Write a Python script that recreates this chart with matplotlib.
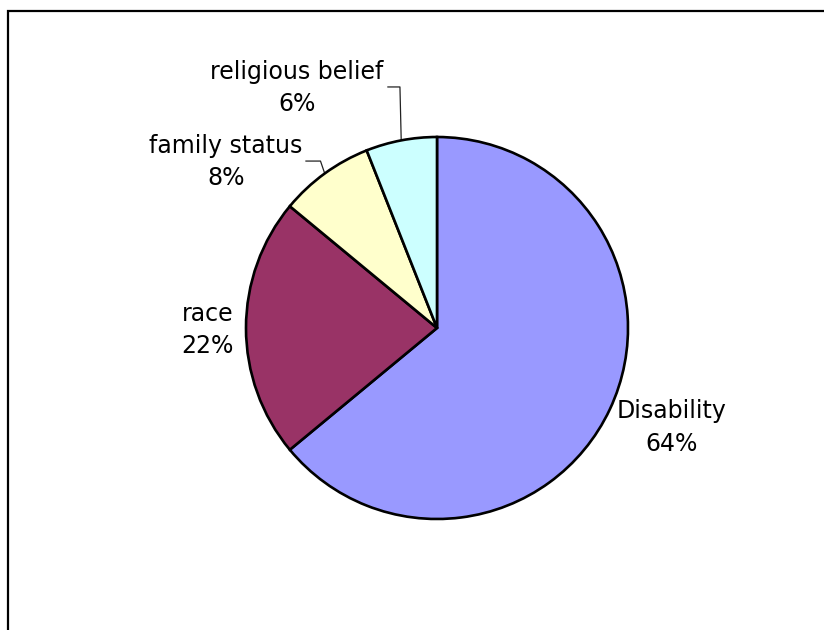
import numpy as np
import matplotlib
matplotlib.use("Agg")
from matplotlib import pyplot as plt
from matplotlib.patches import Rectangle

# data
categories = ['Disability', 'race', 'family status', 'religious belief']
shares = [64, 22, 8, 6]
colors = ['#9999FF', '#993366', '#FFFFCC', '#CCFFFF']

# label placement (axes data units, pie radius = 1)
label_pos = {
    'Disability': (1.23, -0.52),
    'race': (-1.20, -0.01),
    'family status': (-1.105, 0.87),
    'religious belief': (-0.733, 1.257),
}
# leader lines: (elbow, end) for labels sitting away from their slice
leaders = {
    'family status': ((-0.61, 0.874), (-0.686, 0.874)),
    'religious belief': ((-0.194, 1.262), (-0.257, 1.262)),
}

W, H = 824, 630
cx, cy, r = 437, 328, 191

fig = plt.figure(figsize=(W / 100, H / 100), dpi=100)
ax = fig.add_axes([0, 0, 1, 1])

wedges, _ = ax.pie(shares, colors=colors, startangle=90, counterclock=False,
                   radius=1, wedgeprops=dict(edgecolor='black', linewidth=1.9))

ax.set_xlim(-cx / r, (W - cx) / r)
ax.set_ylim(-(H - cy) / r, cy / r)
ax.set_aspect('equal')
ax.axis('off')

total = sum(shares)
for w, name, val in zip(wedges, categories, shares):
    ax.text(*label_pos[name], f'{name}\n{round(100 * val / total)}%',
            ha='center', va='center', fontsize=17, linespacing=1.45,
            family='DejaVu Sans')
    if name in leaders:
        mid = np.deg2rad((w.theta1 + w.theta2) / 2)
        elbow, end = leaders[name]
        ax.plot([np.cos(mid), elbow[0], end[0]], [np.sin(mid), elbow[1], end[1]],
                color='#222222', lw=0.9, zorder=0.5)

# chart area border (right and bottom edges lie outside the picture)
fig.patches.append(Rectangle((8 / W, -0.05), 1.1, 1 - 11 / H + 0.05,
                             transform=fig.transFigure, fill=False,
                             edgecolor='black', linewidth=1.6))

fig.savefig('out.png', dpi=100)
